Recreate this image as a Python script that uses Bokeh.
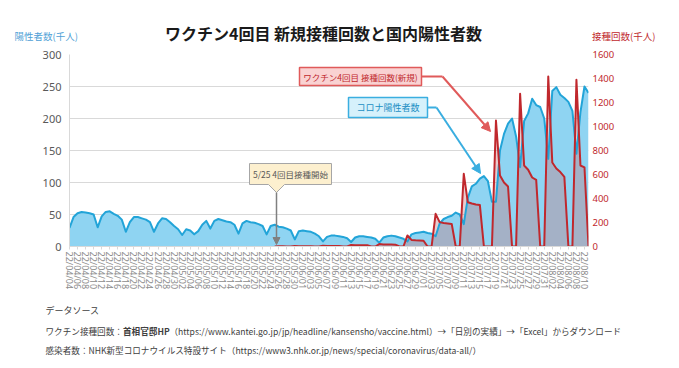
import pandas as pd
from bokeh.plotting import figure
from bokeh.layouts import column
from bokeh.models import (Range1d, LinearAxis, FixedTicker, Label, BoxAnnotation,
                          PolyAnnotation, Arrow, NormalHead)
from bokeh.embed import file_html
from bokeh.resources import INLINE

# ---------------- data ----------------
title_text = "ワクチン4回目 新規接種回数と国内陽性者数"
left_title = "陽性者数(千人)"
right_title = "接種回数(千人)"
first_date = "2022-04-04"
vaccine_start_index = 51          # 2022-05-25

# daily new positives (thousand people), 2022-04-04 .. 2022-08-11
positives = [
    29, 46, 52, 54, 53, 52, 50, 30, 47, 54,
    55, 51, 48, 42, 23, 38, 46, 46, 44, 42,
    38, 23, 36, 44, 43, 38, 32, 27, 18, 27,
    25, 19, 24, 34, 40, 28, 40, 43, 41, 39,
    38, 34, 20, 36, 40, 38, 37, 35, 32, 19,
    32, 34, 31, 30, 28, 25, 11, 24, 25, 24,
    23, 20, 16, 8, 15, 17, 17, 16, 15, 13,
    7, 14, 16, 16, 15, 14, 12, 6, 14, 16,
    17, 16, 14, 12, 8, 19, 21, 22, 23, 21,
    20, 16, 36, 43, 46, 48, 53, 50, 35, 76,
    94, 98, 106, 110, 102, 70, 70, 150, 176, 192,
    200, 172, 124, 196, 208, 231, 221, 218, 200, 137,
    243, 249, 237, 232, 226, 212, 145, 210, 250, 240,
]

# new 4th-dose vaccinations (thousand), from 2022-05-25
vaccinations = [
    1, 2, 2, 0, 0, 5, 3, 3, 3,
    2, 0, 0, 6, 5, 5, 5, 4, 0, 0,
    13, 11, 11, 10, 10, 0, 0, 20, 17, 17,
    16, 15, 0, 0, 92, 55, 52, 50, 48, 0,
    0, 272, 203, 196, 192, 188, 0, 0, 606, 369,
    358, 350, 345, 0, 0, 0, 1050, 592, 533, 500,
    0, 0, 1272, 675, 640, 575, 555, 0, 0, 1416,
    700, 650, 620, 580, 0, 0, 1389, 675, 660, 0,
]

left_ticks = [0, 50, 100, 150, 200, 250, 300]
right_ticks = [0, 200, 400, 600, 800, 1000, 1200, 1400, 1600]

annot_vac = "ワクチン4回目 接種回数(新規)"
annot_pos = "コロナ陽性者数"
annot_start = "5/25 4回目接種開始"
source_lines = [
    "データソース",
    "ワクチン接種回数：",
    "首相官邸HP",
    "（https://www.kantei.go.jp/jp/headline/kansensho/vaccine.html）→「日別の実績」→「Excel」からダウンロード",
    "感染者数：NHK新型コロナウイルス特設サイト（https://www3.nhk.or.jp/news/special/coronavirus/data-all/）",
]

dates = pd.date_range(first_date, periods=len(positives))
date_labels = [d.strftime("%y/%m/%d") for d in dates]
days = list(range(len(positives)))
vac_days = days[vaccine_start_index:]

# ---------------- layout ----------------
W = 679
HEAD_H = 44
FOOT_H = 68
MAIN_H = 368 - HEAD_H - FOOT_H
BL, BR, BT, BB = 69, 91, 10, 54
FW = W - BL - BR
FH = MAIN_H - BT - BB
XMAX = len(days) - 1
YMAX = left_ticks[-1]
OX, OY = BL, HEAD_H + BT + FH   # frame origin (bottom-left) in page pixels

JP = "Noto Sans CJK JP"


def ix(X):
    return (X - OX) / FW * XMAX


def iy(Y):
    return (OY - Y) / FH * YMAX


def text_strip(height, top):
    f = figure(width=W, height=height, x_range=Range1d(0, W), y_range=Range1d(top + height, top),
               x_axis_type=None, y_axis_type=None, output_backend="svg",
               toolbar_location=None, min_border=0)
    f.outline_line_color = None
    f.frame_align = False
    return f


# header with titles
head = text_strip(HEAD_H, 0)
head.add_layout(Label(x=323, y=32, text=title_text, text_font=JP,
                      text_font_size="16px", text_font_style="bold", text_color="#1a1a1a",
                      text_align="center", text_baseline="middle"))
head.add_layout(Label(x=14, y=35, text=left_title, text_font=JP,
                      text_font_size="9.5px", text_color="#4f9fd6",
                      text_align="left", text_baseline="middle"))
head.add_layout(Label(x=655, y=35, text=right_title, text_font=JP,
                      text_font_size="9.5px", text_color="#c0282d",
                      text_align="right", text_baseline="middle"))

# main chart
p = figure(width=W, height=MAIN_H, x_range=Range1d(0, XMAX), y_range=Range1d(0, YMAX),
           output_backend="svg", toolbar_location=None,
           min_border_left=BL, min_border_right=BR, min_border_top=BT, min_border_bottom=BB)
p.frame_align = False
p.extra_y_ranges = {"vac": Range1d(0, right_ticks[-1])}
p.outline_line_color = None

p.varea(x=days, y1=0, y2=positives, fill_color="#8fd4f2")
p.varea(x=vac_days, y1=0, y2=vaccinations, y_range_name="vac",
        fill_color="#c8787d", fill_alpha=0.38)
p.line(days, positives, line_color="#22a4d8", line_width=2, line_join="round")
p.line(vac_days, vaccinations, y_range_name="vac", line_color="#c0282d",
       line_width=2, line_join="round")

p.xgrid.grid_line_color = None
p.ygrid.grid_line_color = "#d9d9d9"

xa = p.xaxis[0]
xa.ticker = FixedTicker(ticks=days[::2])
xa.major_label_overrides = {d: date_labels[d] for d in days[::2]}
xa.major_label_orientation = "vertical"
xa.major_label_text_font = "Noto Sans"
xa.major_label_text_font_size = "9px"
xa.major_label_text_color = "#8c8c8c"
xa.axis_line_color = "#d9d9d9"
xa.major_tick_line_color = "#d9d9d9"
xa.major_tick_in = 0
xa.major_tick_out = 3
xa.minor_tick_line_color = None
xa.major_label_standoff = 2

ya = p.yaxis[0]
ya.ticker = FixedTicker(ticks=left_ticks)
ya.axis_line_color = "#d9d9d9"
ya.major_tick_line_color = None
ya.major_tick_in = 0
ya.major_tick_out = 0
ya.minor_tick_line_color = None
ya.major_label_text_font = "Noto Sans"
ya.major_label_text_font_size = "11px"
ya.major_label_text_color = "#595959"
ya.major_label_standoff = 8

ra = LinearAxis(y_range_name="vac", ticker=FixedTicker(ticks=right_ticks))
ra.axis_line_color = None
ra.major_tick_line_color = None
ra.major_tick_in = 0
ra.major_tick_out = 0
ra.minor_tick_line_color = None
ra.major_label_text_font = "Noto Sans"
ra.major_label_text_font_size = "9.5px"
ra.major_label_text_color = "#c0282d"
ra.major_label_standoff = 4
p.add_layout(ra, "right")

# callout: vaccinations
p.add_layout(BoxAnnotation(left=ix(299), right=ix(421), top=iy(67), bottom=iy(85),
                           fill_color="#f9d2d2", fill_alpha=1, line_color="#e05a5a",
                           line_alpha=1, line_width=1.5))
p.add_layout(Label(x=ix(360), y=iy(76), text=annot_vac, text_font=JP,
                   text_font_size="8.5px", text_color="#c0282d",
                   text_align="center", text_baseline="middle"))
p.add_layout(Arrow(x_start=ix(421), y_start=iy(76), x_end=ix(442), y_end=iy(76), end=None,
                   line_color="#e05a5a", line_width=2))
p.add_layout(Arrow(x_start=ix(442), y_start=iy(76), x_end=ix(490), y_end=iy(131),
                   line_color="#e05a5a", line_width=2,
                   end=NormalHead(size=9, fill_color="#e05a5a", line_color="#e05a5a")))

# callout: positives
p.add_layout(BoxAnnotation(left=ix(348), right=ix(427), top=iy(97), bottom=iy(117),
                           fill_color="#d6f1fb", fill_alpha=1, line_color="#3aaee0",
                           line_alpha=1, line_width=1.5))
p.add_layout(Label(x=ix(387.5), y=iy(107), text=annot_pos, text_font=JP,
                   text_font_size="9px", text_color="#1b8fc4",
                   text_align="center", text_baseline="middle"))
p.add_layout(Arrow(x_start=ix(427), y_start=iy(107), x_end=ix(436), y_end=iy(107), end=None,
                   line_color="#3aaee0", line_width=2))
p.add_layout(Arrow(x_start=ix(436), y_start=iy(107), x_end=ix(480), y_end=iy(173),
                   line_color="#3aaee0", line_width=2,
                   end=NormalHead(size=9, fill_color="#3aaee0", line_color="#3aaee0")))

# callout: start of 4th dose
cx = [249, 331, 331, 284, 276, 268, 249]
cy = [163, 163, 184, 184, 192, 184, 184]
p.add_layout(PolyAnnotation(xs=[ix(v) for v in cx], ys=[iy(v) for v in cy],
                            fill_color="#fdf0cf", fill_alpha=1, line_color="#a6a6a6",
                            line_alpha=1, line_width=1))
p.add_layout(Label(x=ix(290), y=iy(173.5), text=annot_start, text_font=JP,
                   text_font_size="8.5px", text_color="#595959",
                   text_align="center", text_baseline="middle"))
p.add_layout(Arrow(x_start=ix(276), y_start=iy(192), x_end=ix(276), y_end=iy(244),
                   line_color="#808080", line_width=1.5,
                   end=NormalHead(size=7, fill_color="#808080", line_color="#808080")))

# footer with data sources
foot_top = HEAD_H + MAIN_H
foot = text_strip(FOOT_H, foot_top)
fs = dict(text_font=JP, text_color="#404040", text_align="left", text_baseline="middle")
foot.add_layout(Label(x=45, y=310, text=source_lines[0], text_font_size="9px", **fs))
foot.add_layout(Label(x=45, y=330, text=source_lines[1], text_font_size="8.6px", **fs))
foot.add_layout(Label(x=122.5, y=330, text=source_lines[2], text_font_size="8.6px",
                      text_font_style="bold", **fs))
foot.add_layout(Label(x=169, y=330, text=source_lines[3], text_font_size="8.6px", **fs))
foot.add_layout(Label(x=45, y=349, text=source_lines[4], text_font_size="8.6px", **fs))

page = column(head, p, foot, spacing=0)
open("out.html", "w").write(file_html(page, INLINE))
